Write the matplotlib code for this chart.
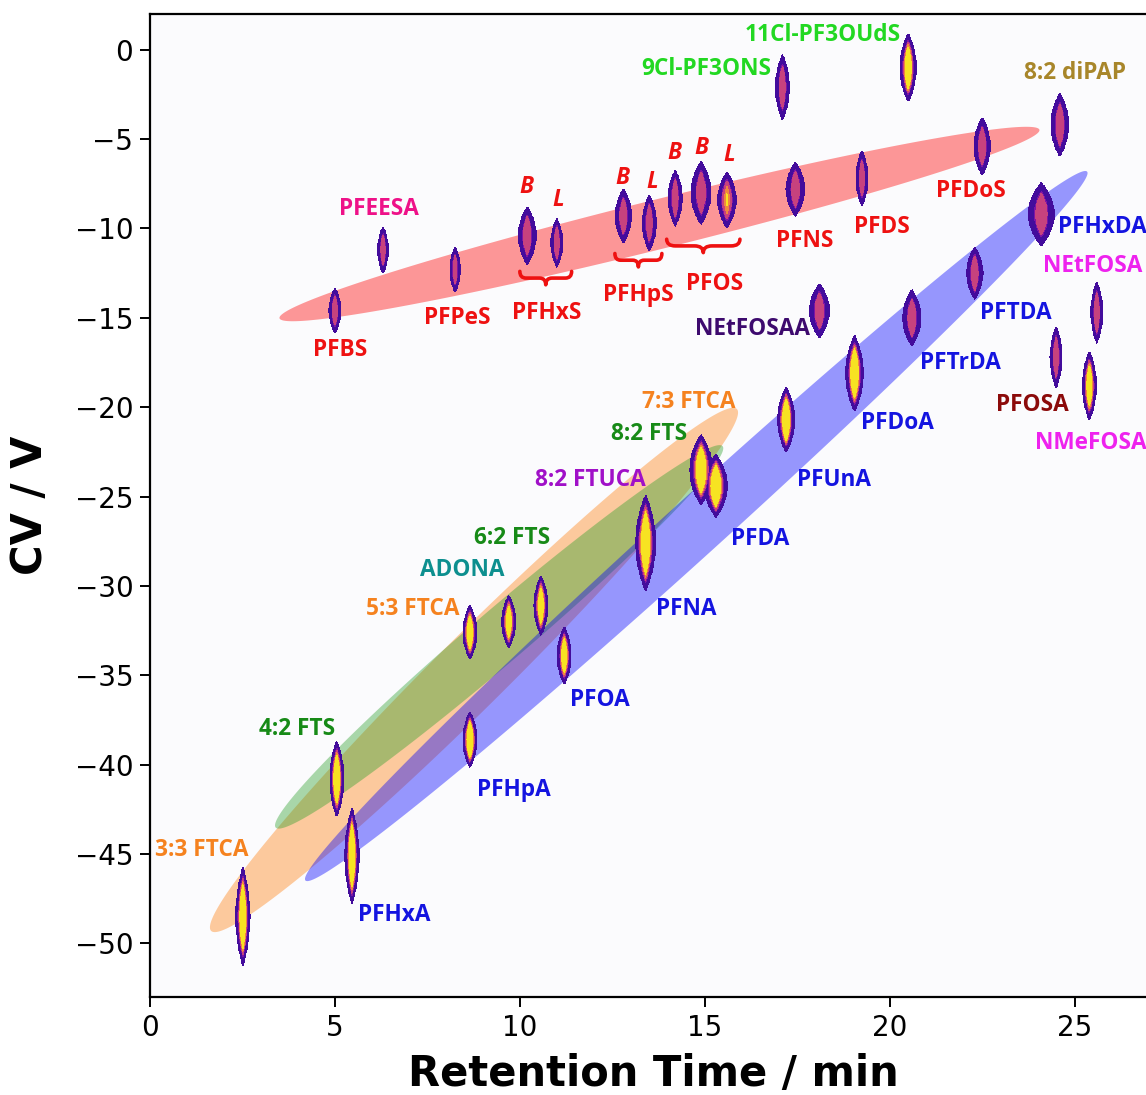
import numpy as np
import matplotlib
matplotlib.use('Agg')
import matplotlib.pyplot as plt
from matplotlib.path import Path
from matplotlib.patches import PathPatch

# ---------------- data ----------------
peak_names = ['PFBS', 'PFEESA', 'PFPeS', 'PFHxS-B', 'PFHxS-L', 'PFHpS-B', 'PFHpS-L',
              'PFOS-B1', 'PFOS-B2', 'PFOS-L', 'PFNS', 'PFDS', 'PFDoS', '8:2 diPAP',
              '9Cl-PF3ONS', '11Cl-PF3OUdS', 'NEtFOSAA', 'PFHxDA', 'PFTDA', 'PFTrDA',
              'PFDoA', 'PFUnA', 'PFDA', '8:2 FTS/7:3 FTCA', 'PFNA', 'PFOA', '6:2 FTS',
              'ADONA', '5:3 FTCA', 'PFHpA', '4:2 FTS', 'PFHxA', '3:3 FTCA',
              'NEtFOSA', 'PFOSA', 'NMeFOSA']
peak_rt = [5.0, 6.3, 8.25, 10.2, 11.0, 12.8, 13.5,
           14.2, 14.9, 15.6, 17.45, 19.25, 22.5, 24.6,
           17.1, 20.5, 18.1, 24.1, 22.3, 20.6,
           19.05, 17.2, 15.3, 14.9, 13.4, 11.2, 10.57,
           9.7, 8.65, 8.65, 5.05, 5.46, 2.51,
           25.6, 24.5, 25.4]
peak_cv = [-14.6, -11.2, -12.3, -10.4, -10.8, -9.3, -9.7,
           -8.3, -8.0, -8.4, -7.8, -7.2, -5.4, -4.2,
           -2.1, -1.0, -14.6, -9.2, -12.5, -15.0,
           -18.1, -20.7, -24.4, -23.5, -27.6, -33.9, -31.1,
           -32.0, -32.6, -38.6, -40.8, -45.1, -48.5,
           -14.7, -17.2, -18.8]
peak_rt_halfwidth = [0.15, 0.13, 0.13, 0.23, 0.15, 0.21, 0.18,
                     0.18, 0.26, 0.24, 0.24, 0.15, 0.21, 0.23,
                     0.18, 0.21, 0.26, 0.34, 0.21, 0.24,
                     0.23, 0.22, 0.3, 0.3, 0.26, 0.18, 0.18,
                     0.18, 0.18, 0.18, 0.18, 0.18, 0.18,
                     0.15, 0.15, 0.18]
peak_cv_halfheight = [1.25, 1.3, 1.25, 1.6, 1.35, 1.5, 1.55,
                      1.55, 1.75, 1.55, 1.5, 1.55, 1.6, 1.75,
                      1.8, 1.9, 1.5, 1.75, 1.45, 1.55,
                      2.1, 1.8, 1.75, 1.95, 2.65, 1.6, 1.65,
                      1.45, 1.5, 1.55, 2.1, 2.65, 2.75,
                      1.7, 1.7, 1.9]
# relative response (1 = strong peak with bright core, low = weak peak)
peak_intensity = [0.15, 0.15, 0.15, 0.15, 0.15, 0.15, 0.15,
                  0.15, 0.17, 0.42, 0.17, 0.15, 0.17, 0.17,
                  0.18, 0.9, 0.18, 0.18, 0.17, 0.18,
                  1.0, 1.0, 1.0, 1.0, 1.0, 0.85, 0.85,
                  0.85, 0.9, 1.0, 1.0, 1.0, 1.0,
                  0.2, 0.22, 0.85]

# trend bands (class regions)
band_start_rt = [1.62, 3.38, 4.19, 3.5]
band_start_cv = [-49.1, -43.4, -46.4, -15.0]
band_end_rt = [15.9, 15.5, 25.35, 24.05]
band_end_cv = [-20.3, -22.3, -6.9, -4.5]
band_thickness_cv = [5.6, 3.9, 4.3, 2.85]
band_color = ['#ff7f0e', '#2ca02c', '#0000ff', '#ff0000']

# compound labels
label_text = ['3:3 FTCA', 'PFHxA', '4:2 FTS', 'PFHpA', '5:3 FTCA', 'ADONA', '6:2 FTS',
              'PFOA', 'PFNA', '8:2 FTUCA', '8:2 FTS', '7:3 FTCA', 'PFDA', 'PFUnA',
              'PFDoA', 'PFTrDA', 'PFTDA', 'PFHxDA', 'NEtFOSA', 'PFOSA', 'NMeFOSA',
              'NEtFOSAA', '9Cl-PF3ONS', '11Cl-PF3OUdS', '8:2 diPAP', 'PFDoS', 'PFDS',
              'PFNS', 'PFOS', 'PFHpS', 'PFHxS', 'PFPeS', 'PFEESA', 'PFBS']
label_rt = [1.4, 6.6, 3.97, 9.84, 7.1, 8.43, 9.78,
            12.16, 14.5, 11.9, 13.5, 14.57, 16.5, 18.5,
            20.2, 21.9, 23.4, 25.75, 25.5, 23.85, 25.45,
            16.3, 15.05, 18.2, 25.0, 22.2, 19.8,
            17.7, 15.27, 13.2, 10.73, 8.3, 6.2, 5.14]
label_cv = [-44.8, -48.4, -38.0, -41.4, -31.3, -29.1, -27.3,
            -36.4, -31.3, -24.1, -21.5, -19.7, -27.4, -24.1,
            -20.9, -17.5, -14.75, -9.9, -12.1, -19.9, -22.0,
            -15.6, -1.1, 0.8, -1.3, -7.9, -9.9,
            -10.7, -13.1, -13.7, -14.75, -15.0, -8.9, -16.8]
label_color = ['#f5821f', '#1414e0', '#178a17', '#1414e0', '#f5821f', '#0d8f8f', '#178a17',
               '#1414e0', '#1414e0', '#a010c8', '#178a17', '#f5821f', '#1414e0', '#1414e0',
               '#1414e0', '#1414e0', '#1414e0', '#1414e0', '#ee22ee', '#8b0a0a', '#ee22ee',
               '#3d0a6e', '#22d822', '#22d822', '#a8862a', '#ee1111', '#ee1111',
               '#ee1111', '#ee1111', '#ee1111', '#ee1111', '#ee1111', '#ee1188', '#ee1111']

# isomer markers (B = branched, L = linear)
isomer_text = ['B', 'L', 'B', 'L', 'B', 'B', 'L']
isomer_rt = [10.19, 11.05, 12.76, 13.57, 14.19, 14.9, 15.65]
isomer_cv = [-7.7, -8.4, -7.15, -7.4, -5.75, -5.5, -5.9]

# braces grouping isomers
brace_rt_start = [10.0, 12.57, 13.97]
brace_rt_end = [11.4, 13.84, 15.95]
brace_cv = [-12.4, -11.4, -10.6]

# ---------------- figure ----------------
fig = plt.figure(figsize=(11.46, 10.95), dpi=100)
ax = fig.add_axes([0.1309, 0.0895, 0.8778, 0.8977])
ax.set_facecolor('#fbfbfd')
ax.set_xlim(0, 27.2)
ax.set_ylim(-53, 2)

# bands
t = np.linspace(0, 2 * np.pi, 400)
for x0, y0, x1, y1, th, col in zip(band_start_rt, band_start_cv, band_end_rt,
                                   band_end_cv, band_thickness_cv, band_color):
    cx, cy = (x0 + x1) / 2, (y0 + y1) / 2
    ax_, ay_ = (x1 - x0) / 2, (y1 - y0) / 2
    px = cx + np.cos(t) * ax_
    py = cy + np.cos(t) * ay_ + np.sin(t) * th / 2
    ax.fill(px, py, color=col, alpha=0.4, lw=0, zorder=1)

# peaks: lens-shaped contour islands
gx = np.linspace(0, 27.2, 1700)
gy = np.linspace(-53, 2, 1900)
V = np.zeros((gy.size, gx.size))
for rt, cv, w, h, k in zip(peak_rt, peak_cv, peak_rt_halfwidth,
                           peak_cv_halfheight, peak_intensity):
    i0, i1 = np.searchsorted(gx, [rt - w * 1.1, rt + w * 1.1])
    j0, j1 = np.searchsorted(gy, [cv - h * 1.1, cv + h * 1.1])
    XX, YY = np.meshgrid(gx[i0:i1], gy[j0:j1])
    f = 1 - (np.abs(XX - rt) / w + ((YY - cv) / h) ** 2)
    a = 0.5 - 0.2 * k
    b = a + 0.08
    v = np.where(f <= 0, 0,
                 np.where(f < a, 0.1,
                          np.where(f < b, 0.27, 0.4 + (f - b) * k)))
    V[j0:j1, i0:i1] = np.maximum(V[j0:j1, i0:i1], v)

ax.contourf(gx, gy, V, levels=[0.0005, 0.2, 0.35, 0.5, 0.58, 10],
            colors=['#430c9c', '#7e14a4', '#c7427e', '#f0883f', '#f7e322'], zorder=3)

# labels
lab_font = dict(family=['Open Sans', 'DejaVu Sans'], fontweight='bold', fontsize=16.3)
for txt, x, y, c in zip(label_text, label_rt, label_cv, label_color):
    ax.text(x, y, txt, color=c, ha='center', va='center', zorder=5, **lab_font)
for txt, x, y in zip(isomer_text, isomer_rt, isomer_cv):
    ax.text(x, y, txt, color='#ee1111', ha='center', va='center', zorder=5,
            family=['Open Sans', 'DejaVu Sans'], fontweight='bold', fontstyle='italic',
            fontsize=16.3)

# braces
bh = 0.75
for x0, x1, y in zip(brace_rt_start, brace_rt_end, brace_cv):
    xm = (x0 + x1) / 2
    q = (x1 - x0) * 0.12
    verts = [(x0, y), (x0, y - bh / 2), (x0 + q, y - bh / 2),
             (xm - q, y - bh / 2),
             (xm, y - bh / 2), (xm, y - bh),
             (xm, y - bh / 2), (xm + q, y - bh / 2),
             (x1 - q, y - bh / 2),
             (x1, y - bh / 2), (x1, y)]
    codes = [Path.MOVETO, Path.CURVE3, Path.CURVE3, Path.LINETO,
             Path.CURVE3, Path.CURVE3, Path.CURVE3, Path.CURVE3,
             Path.LINETO, Path.CURVE3, Path.CURVE3]
    ax.add_patch(PathPatch(Path(verts, codes), fill=False, ec='#ee1111', lw=2.6,
                           zorder=5, capstyle='round', joinstyle='round'))

# axes styling
ax.set_xticks([0, 5, 10, 15, 20, 25])
ax.set_yticks([0, -5, -10, -15, -20, -25, -30, -35, -40, -45, -50])
ax.tick_params(labelsize=20, length=7, width=1.4, color='black', pad=5)
for s in ax.spines.values():
    s.set_linewidth(1.6)
ax.set_xlabel('Retention Time / min', fontsize=30, fontweight='bold', labelpad=8)
ax.set_ylabel('CV / V', fontsize=30, fontweight='bold', labelpad=17)

fig.savefig('out.png', dpi=100)
